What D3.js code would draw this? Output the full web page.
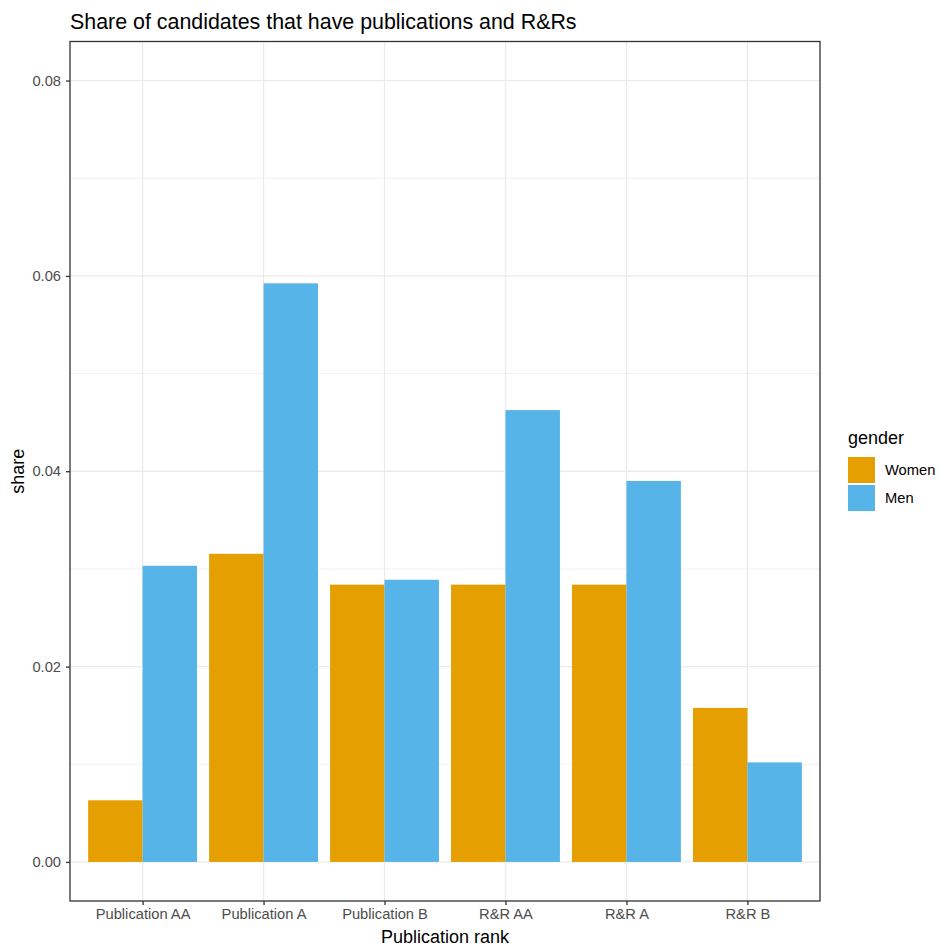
<!DOCTYPE html>
<html><head><meta charset="utf-8">
<script src="https://cdn.jsdelivr.net/npm/d3@7"></script>
<style>body{margin:0;background:#fff;font-family:"Liberation Sans",Arial,sans-serif}</style>
</head><body>
<script>
const categories = ["Publication AA","Publication A","Publication B","R&R AA","R&R A","R&R B"];
const genders = ["Women","Men"];
const women = [0.00631,0.03155,0.02839,0.02839,0.02839,0.01577];
const men   = [0.03032,0.05924,0.02889,0.04626,0.0390,0.01019];
const yTicks = [0,0.02,0.04,0.06,0.08];
const yMinor = [0.01,0.03,0.05,0.07];
const colors = ["#E69F00","#56B4E9"];

const W=940,H=949;
const L=70,R=820,T=41.5,B=901;
const svg=d3.select("body").append("svg").attr("width",W).attr("height",H);

const y=d3.scaleLinear().domain([-0.004,0.084]).range([B,T]);
const x=d3.scaleLinear().domain([0.4,6.6]).range([L,R]);
const bw=0.9;
const sub=d3.scaleBand().domain(genders).range([-bw/2,bw/2]);

const g=svg.append("g");
g.append("rect").attr("x",L).attr("y",T).attr("width",R-L).attr("height",B-T).attr("fill","#fff");
g.selectAll(".ymin").data(yMinor).join("line").attr("x1",L).attr("x2",R)
 .attr("y1",d=>y(d)).attr("y2",d=>y(d)).attr("stroke","#ebebeb").attr("stroke-width",0.7);
g.selectAll(".ymaj").data(yTicks).join("line").attr("x1",L).attr("x2",R)
 .attr("y1",d=>y(d)).attr("y2",d=>y(d)).attr("stroke","#ebebeb").attr("stroke-width",1.3);
g.selectAll(".xmaj").data(categories).join("line").attr("y1",T).attr("y2",B)
 .attr("x1",(d,i)=>x(i+1)).attr("x2",(d,i)=>x(i+1)).attr("stroke","#ebebeb").attr("stroke-width",1.3);

const rows=categories.map((c,i)=>({c,i,vals:[women[i],men[i]]}));
rows.forEach(r=>{
  genders.forEach((gd,j)=>{
    const x0=x(r.i+1+sub(gd)), x1=x(r.i+1+sub(gd)+sub.bandwidth());
    g.append("rect").attr("x",x0).attr("width",x1-x0)
     .attr("y",y(r.vals[j])).attr("height",y(0)-y(r.vals[j])).attr("fill",colors[j]);
  });
});

g.append("rect").attr("x",L).attr("y",T).attr("width",R-L).attr("height",B-T)
 .attr("fill","none").attr("stroke","#333333").attr("stroke-width",1.3);

const ya=svg.append("g").attr("transform",`translate(${L},0)`)
 .call(d3.axisLeft(y).tickValues(yTicks).tickFormat(d3.format(".2f")).tickSize(4).tickPadding(5));
const xa=svg.append("g").attr("transform",`translate(0,${B})`)
 .call(d3.axisBottom(x).tickValues(categories.map((c,i)=>i+1)).tickFormat(d=>categories[d-1]).tickSize(4).tickPadding(4));
[ya,xa].forEach(a=>{
  a.select(".domain").remove();
  a.selectAll(".tick line").attr("stroke","#333333").attr("stroke-width",1.3);
  a.selectAll(".tick text").attr("fill","#4d4d4d").attr("font-size","14.7px").attr("font-family","Liberation Sans, Arial, sans-serif");
});

svg.append("text").attr("x",L).attr("y",29).attr("font-size","21.4px").attr("fill","#000").text("Share of candidates that have publications and R&Rs");
svg.append("text").attr("x",(L+R)/2).attr("y",943).attr("text-anchor","middle").attr("font-size","18px").text("Publication rank");
svg.append("text").attr("transform",`translate(24,${(T+B)/2}) rotate(-90)`).attr("text-anchor","middle").attr("font-size","18px").text("share");

const lg=svg.append("g").attr("transform","translate(848,0)");
lg.append("text").attr("x",0).attr("y",444).attr("font-size","18px").text("gender");
genders.forEach((gd,j)=>{
  lg.append("rect").attr("x",0).attr("y",457+j*28).attr("width",27).attr("height",26).attr("fill",colors[j]);
  lg.append("text").attr("x",37).attr("y",470+j*28).attr("dy","0.35em").attr("font-size","14.7px").text(gd);
});
</script>
</body></html>
